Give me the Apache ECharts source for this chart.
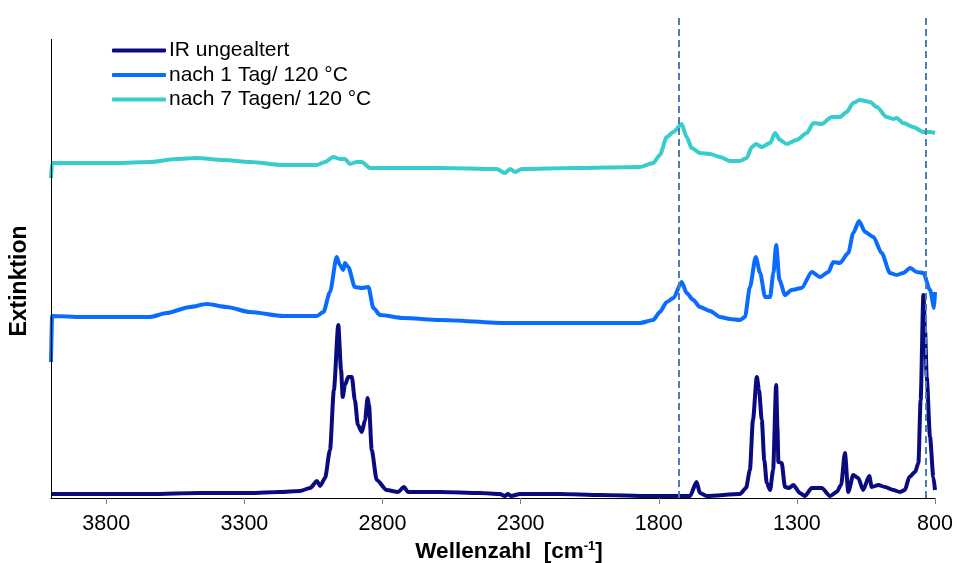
<!DOCTYPE html>
<html lang="de">
<head>
	<meta charset="UTF-8">
	<title>IR Spektren</title>
	<style>
	body, div {
		margin: 0;
		padding: 0;
	}
	#echart {
		width: 957px;
		height: 563px;
	}
	</style>
</head>
<body>
	<div id="echart"></div>

	<script src="https://cdn.jsdelivr.net/npm/echarts@6/dist/echarts.min.js"></script>

	<script>
// Achsenbeschriftung
var tickValues = [3800, 3300, 2800, 2300, 1800, 1300, 800];
// gestrichelte Hilfslinien (Wellenzahl)
var markerLines = [1727, 835];

var seriesNames = ['IR ungealtert', 'nach 1 Tag/ 120 °C', 'nach 7 Tagen/ 120 °C'];

// IR ungealtert
var wnNeu = [4000, 3823, 3642, 3461, 3280, 3171, 3099, 3062, 3037, 3026, 3008, 2990, 2976, 2960, 2950, 2944, 2936, 2924, 2911, 2900, 2889, 2875, 2863, 2854, 2849, 2839, 2821, 2785, 2744, 2722, 2708, 2592, 2447, 2375, 2357, 2346, 2335, 2302, 2157, 2013, 1832, 1687, 1663, 1651, 1626, 1506, 1484, 1470, 1459, 1445, 1437, 1427, 1418, 1409, 1397, 1386, 1375, 1370, 1367, 1355, 1343, 1328, 1313, 1289, 1271, 1246, 1210, 1180, 1156, 1140, 1126, 1114, 1096, 1078, 1060, 1038, 1029, 1005, 981, 951, 927, 909, 893, 872, 860, 852, 842, 836, 830, 818, 806, 800];
var extNeu = [0.04, 0.04, 0.04, 0.05, 0.05, 0.06, 0.07, 0.10, 0.17, 0.12, 0.20, 0.48, 1.08, 1.73, 1.28, 1.01, 1.13, 1.21, 1.21, 0.98, 0.73, 0.66, 0.78, 1.00, 0.93, 0.48, 0.18, 0.08, 0.06, 0.11, 0.06, 0.06, 0.05, 0.04, 0.02, 0.04, 0.02, 0.04, 0.04, 0.03, 0.02, 0.02, 0.16, 0.05, 0.02, 0.04, 0.10, 0.28, 0.78, 1.21, 1.08, 0.78, 0.38, 0.15, 0.08, 0.28, 1.13, 0.68, 0.36, 0.35, 0.11, 0.10, 0.13, 0.05, 0.02, 0.10, 0.10, 0.02, 0.06, 0.13, 0.45, 0.06, 0.23, 0.20, 0.08, 0.22, 0.11, 0.13, 0.11, 0.08, 0.06, 0.08, 0.21, 0.26, 0.35, 0.98, 2.03, 1.68, 1.21, 0.61, 0.21, 0.08];

// nach 1 Tag / 120 °C
var wnTag1 = [4000, 3996, 3884, 3762, 3642, 3581, 3497, 3436, 3364, 3280, 3159, 3038, 3014, 2990, 2966, 2954, 2942, 2936, 2924, 2900, 2875, 2851, 2833, 2809, 2725, 2592, 2350, 2109, 1868, 1820, 1796, 1771, 1747, 1717, 1699, 1675, 1651, 1614, 1578, 1542, 1506, 1488, 1470, 1449, 1433, 1415, 1397, 1385, 1375, 1363, 1343, 1319, 1283, 1246, 1216, 1186, 1168, 1144, 1114, 1096, 1075, 1053, 1023, 993, 963, 939, 915, 890, 866, 842, 818, 803, 800];
var extTag1 = [1.36, 1.82, 1.81, 1.81, 1.81, 1.85, 1.91, 1.94, 1.91, 1.86, 1.82, 1.82, 1.86, 2.06, 2.41, 2.33, 2.28, 2.35, 2.31, 2.11, 2.10, 2.11, 1.90, 1.83, 1.80, 1.78, 1.75, 1.75, 1.75, 1.78, 1.86, 1.96, 2.00, 2.16, 2.05, 1.98, 1.91, 1.87, 1.81, 1.79, 1.78, 1.81, 2.11, 2.41, 2.25, 2.01, 2.01, 2.25, 2.53, 2.18, 2.03, 2.08, 2.10, 2.26, 2.21, 2.26, 2.36, 2.35, 2.45, 2.65, 2.77, 2.66, 2.61, 2.45, 2.25, 2.23, 2.25, 2.30, 2.26, 2.25, 2.08, 1.90, 2.06];

// nach 7 Tagen / 120 °C
var wnTag7 = [4000, 3996, 3883, 3762, 3642, 3545, 3473, 3376, 3280, 3159, 3038, 3008, 2978, 2954, 2936, 2918, 2893, 2875, 2845, 2773, 2592, 2387, 2357, 2338, 2320, 2296, 2109, 1868, 1820, 1796, 1771, 1747, 1717, 1699, 1681, 1651, 1614, 1578, 1542, 1506, 1482, 1463, 1448, 1427, 1397, 1379, 1361, 1337, 1301, 1264, 1240, 1210, 1174, 1144, 1120, 1096, 1072, 1035, 1011, 975, 951, 939, 915, 879, 842, 818, 800];
var extTag7 = [3.20, 3.35, 3.35, 3.35, 3.36, 3.39, 3.40, 3.38, 3.36, 3.33, 3.33, 3.36, 3.41, 3.39, 3.39, 3.34, 3.36, 3.36, 3.30, 3.30, 3.30, 3.29, 3.25, 3.29, 3.26, 3.29, 3.30, 3.31, 3.35, 3.43, 3.61, 3.66, 3.74, 3.61, 3.50, 3.45, 3.44, 3.41, 3.37, 3.37, 3.40, 3.51, 3.54, 3.51, 3.55, 3.65, 3.58, 3.54, 3.58, 3.65, 3.75, 3.74, 3.81, 3.81, 3.86, 3.95, 3.98, 3.96, 3.91, 3.81, 3.79, 3.80, 3.75, 3.71, 3.66, 3.66, 3.65];

var colors = ['#0b0b80', '#0a6cff', '#38cccc'];
var fontFam = '"Liberation Sans", Arial, sans-serif';

function zip(xs, ys) {
	var out = [];
	for (var i = 0; i < xs.length; i++) {
		out.push([xs[i], ys[i]]);
	}
	return out;
}

function spectrum(name, wn, ext, z) {
	return {
		name: name,
		type: 'line',
		showSymbol: false,
		smooth: 0.25,
		smoothMonotone: 'x',
		lineStyle: { width: 4 },
		data: zip(wn, ext),
		z: z
	};
}

var myEchart = echarts.init(document.getElementById('echart'));

var neu = spectrum(seriesNames[0], wnNeu, extNeu, 3);
neu.markLine = {
	silent: true,
	symbol: 'none',
	label: { show: false },
	lineStyle: { color: '#4a7ebb', type: [7, 4], width: 2 },
	data: [
		{ xAxis: markerLines[0] },
		{ xAxis: markerLines[1] },
		// linke Achsenlinie
		[
			{ coord: [4000, 0], lineStyle: { color: '#000', type: 'solid', width: 1 } },
			{ coord: [4000, 4.59] }
		]
	]
};

var option = {
	animation: false,
	color: colors,
	grid: {
		left: 51,
		right: 22,
		top: 18,
		bottom: 65,
		outerBoundsMode: 'none'
	},
	legend: {
		orient: 'vertical',
		left: 112,
		top: 40,
		padding: 0,
		icon: 'roundRect',
		itemWidth: 54,
		itemHeight: 4,
		itemGap: 3.5,
		textStyle: {
			fontFamily: fontFam,
			fontSize: 21,
			color: '#000',
			padding: [0, 0, 0, -2]
		},
		data: seriesNames
	},
	xAxis: {
		type: 'value',
		min: 800,
		max: 4000,
		inverse: true,
		name: '{a|Wellenzahl  [cm}{s|-1}{a|]}',
		nameLocation: 'middle',
		nameGap: 38,
		nameTextStyle: {
			padding: [0, 0, 0, 32],
			rich: {
				a: { fontFamily: fontFam, fontSize: 22.5, fontWeight: 'bold', color: '#000' },
				s: { fontFamily: fontFam, fontSize: 13, fontWeight: 'bold', color: '#000', verticalAlign: 'top' }
			}
		},
		axisLine: {
			lineStyle: { color: '#000', width: 1 }
		},
		axisTick: {
			customValues: tickValues,
			length: 6,
			lineStyle: { color: '#808080' }
		},
		axisLabel: {
			customValues: tickValues,
			margin: 15,
			fontFamily: fontFam,
			fontSize: 21.5,
			color: '#000',
			formatter: function (v) {
				return String(v);
			}
		},
		splitLine: { show: false }
	},
	yAxis: {
		type: 'value',
		min: 0,
		max: 4.8,
		name: 'Extinktion',
		nameLocation: 'middle',
		nameGap: 20,
		nameTextStyle: {
			fontFamily: fontFam,
			fontSize: 23,
			fontWeight: 'bold',
			color: '#000',
			padding: [0, 46, 0, 0]
		},
		axisLine: { show: false },
		axisTick: { show: false },
		axisLabel: { show: false },
		splitLine: { show: false }
	},
	series: [
		neu,
		spectrum(seriesNames[1], wnTag1, extTag1, 2),
		spectrum(seriesNames[2], wnTag7, extTag7, 2)
	]
};

myEchart.setOption(option);
	</script>
</body>
</html>
